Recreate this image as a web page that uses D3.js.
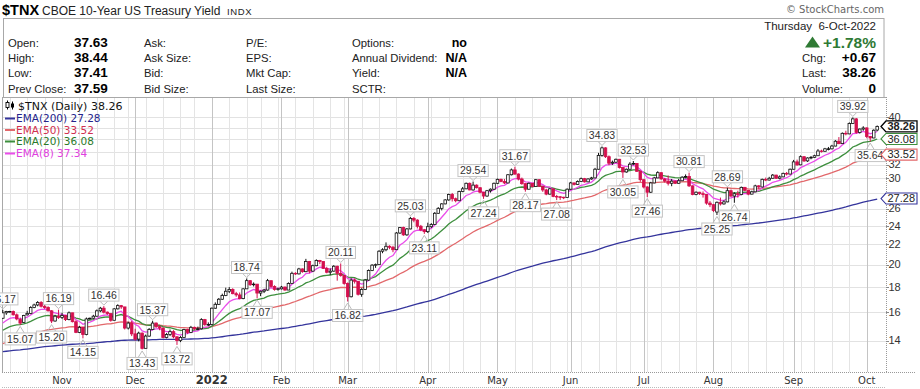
<!DOCTYPE html>
<html>
<head>
<meta charset="utf-8">
<script src="https://cdn.jsdelivr.net/npm/d3@7"></script>
<style>
  body { margin: 0; background: #fff; }
  svg { display: block; }
  text { font-family: "Liberation Sans", Arial, sans-serif; fill: #222; }
  .axis-text { font-family: "DejaVu Sans", Verdana, sans-serif; }
</style>
</head>
<body>
<div id="chart"></div>
<script>
// ---- values ($TNX = 10 x the 10-year yield) ----
const firstDay = "2021-10-07";
const lastDay = "2022-10-06";
const holidays = ["2021-11-25", "2021-12-24", "2022-01-17", "2022-02-21", "2022-04-15",
  "2022-05-30", "2022-06-20", "2022-07-04", "2022-09-05"];

// [open, high, low, close] for every trading day, month by month
const oct21 = [
  [15.55, 16.17, 15.50, 15.95], [15.95, 16.10, 15.80, 16.05], [16.05, 16.10, 15.98, 16.05],
  [16.05, 16.12, 15.75, 15.80], [15.80, 15.90, 15.40, 15.50], [15.45, 15.60, 15.07, 15.20],
  [15.25, 15.80, 15.20, 15.75], [15.80, 16.10, 15.75, 15.90], [15.90, 16.45, 15.85, 16.35],
  [16.35, 16.65, 16.30, 16.55], [16.55, 16.85, 16.45, 16.75], [16.75, 16.85, 16.35, 16.45],
  [16.45, 16.55, 16.25, 16.35], [16.35, 16.45, 16.05, 16.10], [16.10, 16.15, 15.20, 15.35],
  [15.35, 15.80, 15.30, 15.70], [15.70, 16.19, 15.50, 15.60]];
const nov21 = [
  [15.60, 15.95, 15.50, 15.75], [15.75, 15.80, 15.35, 15.45], [15.45, 16.05, 15.40, 15.95],
  [15.95, 15.95, 15.25, 15.30], [15.30, 15.40, 14.50, 14.55], [14.55, 15.00, 14.50, 14.90],
  [14.90, 14.95, 14.15, 14.40], [14.40, 15.60, 14.35, 15.50], [15.50, 15.60, 15.45, 15.55],
  [15.55, 15.80, 15.50, 15.70], [15.70, 16.20, 15.65, 16.10], [16.10, 16.40, 16.00, 16.30],
  [16.30, 16.46, 15.90, 16.00], [16.00, 16.05, 15.80, 15.90], [15.90, 15.90, 15.30, 15.40],
  [15.40, 16.30, 15.40, 16.25], [16.25, 16.60, 16.20, 16.50], [16.50, 16.55, 16.25, 16.40],
  [16.40, 16.40, 14.75, 14.85], [14.85, 15.30, 14.75, 15.20], [15.20, 15.35, 14.30, 14.45]];
const dec21 = [
  [14.45, 14.80, 14.00, 14.10], [14.10, 14.60, 13.95, 14.50], [14.50, 14.55, 13.43, 13.50],
  [13.50, 14.40, 13.50, 14.30], [14.30, 14.85, 14.25, 14.75], [14.75, 15.37, 14.70, 15.20],
  [15.20, 15.25, 14.85, 14.95], [14.95, 15.05, 14.70, 14.85], [14.85, 14.90, 14.15, 14.20],
  [14.20, 14.50, 14.15, 14.40], [14.40, 14.75, 14.30, 14.60], [14.60, 14.70, 14.15, 14.25],
  [14.25, 14.30, 13.72, 14.00], [14.00, 14.30, 13.90, 14.20], [14.20, 14.80, 14.20, 14.75],
  [14.75, 14.80, 14.45, 14.55], [14.55, 15.00, 14.50, 14.90], [14.90, 14.95, 14.70, 14.80],
  [14.80, 14.95, 14.70, 14.80], [14.80, 15.55, 14.75, 15.45], [15.45, 15.50, 15.00, 15.10],
  [15.10, 15.25, 15.00, 15.10]];
const jan22 = [
  [15.10, 16.35, 15.05, 16.30], [16.30, 16.75, 16.25, 16.60], [16.60, 17.10, 16.55, 17.00],
  [17.00, 17.45, 16.95, 17.30], [17.30, 17.95, 17.25, 17.65], [17.65, 18.00, 17.50, 17.80],
  [17.80, 17.90, 17.40, 17.45], [17.45, 17.60, 17.20, 17.35], [17.35, 17.55, 17.00, 17.05],
  [17.05, 17.90, 17.00, 17.85], [17.85, 18.74, 17.85, 18.55], [18.55, 18.60, 18.10, 18.20],
  [18.20, 18.40, 18.05, 18.25], [18.25, 18.25, 17.07, 17.50], [17.50, 17.70, 17.25, 17.65],
  [17.65, 17.85, 17.50, 17.75], [17.75, 18.70, 17.70, 18.55], [18.55, 18.55, 17.95, 18.05],
  [18.05, 18.15, 17.70, 17.80], [17.80, 17.95, 17.70, 17.85]];
const feb22 = [
  [17.85, 18.10, 17.80, 18.00], [18.00, 18.05, 17.70, 17.75], [17.75, 18.40, 17.75, 18.30],
  [18.30, 19.35, 18.30, 19.20], [19.20, 19.30, 19.05, 19.15], [19.15, 19.70, 19.10, 19.60],
  [19.60, 19.65, 19.25, 19.35], [19.35, 20.55, 19.30, 20.30], [20.30, 20.35, 19.20, 19.40],
  [19.40, 20.00, 19.35, 19.90], [19.90, 20.50, 19.85, 20.40], [20.40, 20.45, 20.05, 20.30],
  [20.30, 20.30, 19.60, 19.65], [19.65, 19.80, 19.20, 19.30], [19.30, 19.65, 19.05, 19.40],
  [19.40, 19.95, 19.35, 19.85], [19.85, 19.90, 18.55, 19.20], [19.20, 20.11, 18.90, 19.00],
  [19.00, 19.05, 18.20, 18.30]];
const mar22 = [
  [18.30, 18.40, 16.82, 17.20], [17.20, 18.75, 17.15, 18.60], [18.60, 18.75, 18.30, 18.50],
  [18.50, 18.50, 17.30, 17.40], [17.40, 17.90, 17.20, 17.80], [17.80, 18.70, 17.75, 18.60],
  [18.60, 19.55, 18.55, 19.45], [19.45, 20.05, 19.40, 19.95], [19.95, 20.10, 19.70, 20.00],
  [20.00, 21.40, 20.00, 21.30], [21.30, 21.60, 21.10, 21.45], [21.45, 22.20, 21.30, 21.80],
  [21.80, 21.90, 21.50, 21.70], [21.70, 21.85, 21.20, 21.45], [21.45, 23.30, 21.45, 23.20],
  [23.20, 23.85, 23.10, 23.80], [23.80, 23.90, 22.90, 23.00], [23.00, 23.75, 22.90, 23.65],
  [23.65, 25.03, 23.60, 24.85], [24.85, 25.00, 24.40, 24.65], [24.65, 24.75, 23.70, 23.95],
  [23.95, 24.10, 23.40, 23.55], [23.55, 23.65, 23.11, 23.35]];
const apr22 = [
  [23.35, 24.35, 23.20, 23.90], [23.90, 24.30, 23.75, 24.15], [24.15, 25.60, 24.10, 25.45],
  [25.45, 26.20, 25.40, 26.05], [26.05, 26.70, 25.80, 26.60], [26.60, 27.20, 26.55, 27.10],
  [27.10, 27.90, 27.00, 27.80], [27.80, 28.00, 26.90, 27.25], [27.25, 27.40, 26.80, 27.00],
  [27.00, 28.30, 26.95, 28.20], [28.20, 28.80, 28.10, 28.55], [28.55, 29.40, 28.50, 29.30],
  [29.30, 29.40, 28.35, 28.40], [28.40, 29.54, 28.30, 29.05], [29.05, 29.15, 28.60, 28.70],
  [28.70, 28.75, 27.95, 28.10], [28.10, 28.15, 27.24, 27.60], [27.60, 28.40, 27.50, 28.30],
  [28.30, 28.60, 28.05, 28.50], [28.50, 29.40, 28.40, 29.30]];
const may22 = [
  [29.30, 29.95, 29.20, 29.85], [29.85, 29.95, 29.45, 29.55], [29.55, 29.90, 29.20, 29.35],
  [29.35, 30.60, 29.30, 30.50], [30.50, 31.40, 30.40, 31.20], [31.20, 31.67, 30.50, 30.60],
  [30.60, 30.70, 29.70, 29.90], [29.90, 30.10, 29.10, 29.25], [29.25, 29.30, 28.17, 28.50],
  [28.50, 29.40, 28.45, 29.30], [29.30, 29.35, 28.75, 28.85], [28.85, 29.90, 28.85, 29.80],
  [29.80, 29.85, 28.80, 28.90], [28.90, 28.95, 28.15, 28.40], [28.40, 28.55, 27.70, 27.85],
  [27.85, 28.65, 27.80, 28.55], [28.55, 28.55, 27.45, 27.55], [27.55, 27.75, 27.08, 27.50],
  [27.50, 27.60, 27.10, 27.45], [27.45, 27.50, 27.20, 27.40], [27.40, 28.60, 27.40, 28.50]];
const jun22 = [
  [28.50, 29.50, 28.45, 29.35], [29.35, 29.40, 29.00, 29.15], [29.15, 29.70, 29.10, 29.55],
  [29.55, 30.10, 29.50, 29.95], [29.95, 30.05, 29.40, 29.50], [29.50, 30.00, 29.45, 29.90],
  [29.90, 30.20, 29.80, 30.05], [30.05, 31.50, 30.00, 31.30], [31.30, 33.80, 31.25, 33.40],
  [33.40, 34.83, 33.20, 34.60], [34.60, 34.70, 33.00, 33.20], [33.20, 33.40, 31.90, 32.20],
  [32.20, 32.60, 31.95, 32.35], [32.35, 32.90, 32.25, 32.80], [32.80, 32.85, 31.40, 31.55],
  [31.55, 31.60, 30.05, 30.90], [30.90, 31.40, 30.80, 31.30], [31.30, 32.35, 31.25, 32.05],
  [32.05, 32.53, 31.90, 32.15], [32.15, 32.20, 30.90, 31.00], [31.00, 31.10, 29.50, 29.80]];
const jul22 = [
  [29.80, 29.85, 28.60, 28.80], [28.80, 28.90, 27.46, 28.10], [28.10, 29.50, 28.00, 29.35],
  [29.35, 30.20, 29.30, 30.05], [30.05, 31.00, 30.00, 30.80], [30.80, 30.85, 29.80, 29.90],
  [29.90, 30.00, 29.40, 29.60], [29.60, 30.40, 29.00, 29.30], [29.30, 29.90, 28.90, 29.60],
  [29.60, 29.70, 29.20, 29.30], [29.30, 29.90, 29.25, 29.65], [29.65, 30.30, 29.60, 30.15],
  [30.15, 30.55, 30.00, 30.25], [30.25, 30.81, 28.80, 28.95], [28.95, 29.00, 27.70, 27.80],
  [27.80, 28.20, 27.70, 28.10], [28.10, 28.15, 27.75, 27.90], [27.90, 28.20, 27.40, 27.80],
  [27.80, 27.85, 26.50, 26.70], [26.70, 26.95, 26.20, 26.50]];
const aug22 = [
  [26.50, 26.60, 25.60, 25.80], [25.60, 26.90, 25.25, 26.80], [26.80, 27.40, 26.40, 26.60],
  [26.60, 27.05, 26.50, 26.85], [26.85, 28.69, 26.80, 28.30], [28.30, 28.45, 27.50, 27.60],
  [27.60, 28.10, 26.74, 27.90], [27.90, 28.30, 27.40, 27.80], [27.80, 28.85, 27.70, 28.75],
  [28.75, 28.80, 28.25, 28.35], [28.35, 28.40, 27.70, 27.85], [27.85, 28.30, 27.80, 28.15],
  [28.15, 29.10, 28.10, 28.95], [28.95, 29.05, 28.50, 28.80], [28.80, 29.95, 28.75, 29.85],
  [29.85, 30.10, 29.60, 29.75], [29.75, 30.20, 29.70, 30.00], [30.00, 30.60, 29.95, 30.45],
  [30.45, 30.50, 29.90, 30.00], [30.00, 30.40, 29.85, 30.20], [30.20, 30.80, 30.15, 30.70],
  [30.70, 30.90, 30.40, 30.60], [30.60, 31.40, 30.55, 31.30]];
const sep22 = [
  [31.30, 32.70, 31.25, 32.40], [32.40, 32.75, 31.80, 31.95], [31.95, 33.40, 31.90, 33.20],
  [33.20, 33.25, 32.40, 32.55], [32.55, 33.10, 32.40, 33.00], [33.00, 33.30, 32.80, 33.10],
  [33.10, 33.50, 33.00, 33.35], [33.35, 34.40, 33.30, 34.10], [34.10, 34.30, 33.85, 34.05],
  [34.05, 34.60, 34.00, 34.45], [34.45, 34.75, 34.20, 34.45], [34.45, 35.10, 34.35, 34.90],
  [34.90, 35.90, 34.85, 35.70], [35.70, 36.40, 35.20, 35.30], [35.30, 37.20, 35.25, 37.05],
  [37.05, 37.50, 36.70, 36.95], [36.95, 39.00, 36.90, 38.80], [38.80, 39.92, 38.70, 39.65],
  [39.65, 39.80, 37.00, 37.20], [37.20, 37.90, 37.00, 37.80], [37.80, 38.30, 37.50, 38.00]];
const oct22 = [
  [38.00, 38.10, 36.20, 36.50], [36.50, 36.60, 35.64, 36.25], [36.25, 37.75, 36.20, 37.59],
  [37.63, 38.44, 37.41, 38.26]];

// swing labels printed on the chart
const labelDates = ["2021-10-07", "2021-10-14", "2021-10-27", "2021-10-29", "2021-11-09",
  "2021-11-17", "2021-12-03", "2021-12-08", "2021-12-17", "2022-01-18", "2022-01-21",
  "2022-02-25", "2022-03-01", "2022-03-25", "2022-03-31", "2022-04-21", "2022-04-26",
  "2022-05-09", "2022-05-12", "2022-05-25", "2022-06-14", "2022-06-23", "2022-06-28",
  "2022-07-05", "2022-07-21", "2022-08-02", "2022-08-05", "2022-08-09", "2022-09-27",
  "2022-10-04"];
const labelValues = [16.17, 15.07, 15.20, 16.19, 14.15, 16.46, 13.43, 15.37, 13.72, 18.74,
  17.07, 20.11, 16.82, 25.03, 23.11, 29.54, 27.24, 31.67, 28.17, 27.08, 34.83, 30.05, 32.53,
  27.46, 30.81, 25.25, 28.69, 26.74, 39.92, 35.64];
const labelSides = ["h", "l", "l", "h", "l", "h", "l", "h", "l", "h", "l", "h", "l", "h", "l",
  "h", "l", "h", "l", "l", "h", "l", "h", "l", "h", "l", "h", "l", "h", "l"];

// moving averages: period, value at the first bar, value printed in the legend
const emaNames = ["EMA(200)", "EMA(50)", "EMA(20)", "EMA(8)"];
const emaPeriods = [200, 50, 20, 8];
const emaStart = [13.29, 13.80, 14.70, 15.20];
const emaLast = [27.28, 33.52, 36.08, 37.34];

const yTicks = [14, 16, 18, 20, 22, 24, 26, 28, 30, 32, 34, 36, 38, 40];

// quote panel
const symbolText = "$TNX";
const nameText = "CBOE 10-Year US Treasury Yield";
const exchangeText = "INDX";
const quoteCol1 = [["Open:", "37.63"], ["High:", "38.44"], ["Low:", "37.41"], ["Prev Close:", "37.59"]];
const quoteCol2 = ["Ask:", "Ask Size:", "Bid:", "Bid Size:"];
const quoteCol3 = ["P/E:", "EPS:", "Mkt Cap:", "Last Size:"];
const quoteCol4 = [["Options:", "no"], ["Annual Dividend:", "N/A"], ["Yield:", "N/A"], ["SCTR:", ""]];
const quoteRight = [["Chg:", "+0.67"], ["Last:", "38.26"], ["Volume:", "0"]];
const quoteDate = "Thursday\u00a0\u00a06-Oct-2022";
const quotePct = "+1.78%";
const lastPrice = 38.26;

class CandleChart {
  /**
   * Class constructor with basic configuration
   * @param {Object}
   * @param {Array}
   */
  constructor(_config, _bars) {
    this.config = {
      parentElement: _config.parentElement,
      containerWidth: _config.containerWidth || 920,
      containerHeight: _config.containerHeight || 389,
      plot: { left: 2, right: 886, top: 97, bottom: 372 },
      xFirst: 2.8,
      xLast: 877.2,
      up: "#111",
      down: "#d4104e",
      emaLine: ["#34349c", "#e2686b", "#3d8f3d", "#ea4dea"],
      emaText: ["#24248c", "#d0304f", "#2a7a2a", "#e040e0"],
      legendY: [105.5, 118, 129.5, 141, 153],
      tagHalf: 5.5,
    };
    this.bars = _bars;
    this.initVis();
  }

  initVis() {
    let vis = this;
    const p = vis.config.plot;

    vis.svg = d3
      .select(vis.config.parentElement)
      .append("svg")
      .attr("width", vis.config.containerWidth)
      .attr("height", vis.config.containerHeight);

    vis.xScale = d3
      .scaleLinear()
      .domain([0, vis.bars.length - 1])
      .range([vis.config.xFirst, vis.config.xLast]);

    // log price scale, 40 sits at y=117 and 14 at y=340.6
    vis.yScale = d3.scaleLog().domain([14, 40]).range([340.6, 117]);

    vis.svg
      .append("defs")
      .append("clipPath")
      .attr("id", "plot-clip")
      .append("rect")
      .attr("x", p.left)
      .attr("y", p.top)
      .attr("width", p.right - p.left)
      .attr("height", p.bottom - p.top);

    vis.grid = vis.svg.append("g");
    vis.chart = vis.svg.append("g").attr("clip-path", "url(#plot-clip)");
    vis.overlay = vis.svg.append("g");

    vis.drawHeader();
    vis.updateVis();
  }

  drawHeader() {
    let vis = this;
    const g = vis.svg.append("g");

    g.append("text").attr("x", 2).attr("y", 14.5)
      .attr("font-size", 14.5).attr("font-weight", "bold").style("fill", "#000").text(symbolText);
    g.append("text").attr("x", 42).attr("y", 14.5).attr("font-size", 12).text(nameText);
    g.append("text").attr("x", 227).attr("y", 14.5).attr("font-size", 9.5)
      .attr("letter-spacing", 0.6).text(exchangeText);
    g.append("text").attr("class", "axis-text").attr("x", 884).attr("y", 13)
      .attr("text-anchor", "end").attr("font-size", 10).style("fill", "#666")
      .text("\u00a9 StockCharts.com");

    g.append("rect").attr("x", 3.5).attr("y", 18.5).attr("width", 880.5).attr("height", 79)
      .attr("fill", "none").attr("stroke", "#a8a8a8");

    const rows = [46.5, 62, 77, 92.5];
    quoteCol1.forEach((d, i) => {
      g.append("text").attr("x", 8).attr("y", rows[i]).attr("font-size", 11.3).text(d[0]);
      g.append("text").attr("x", 74).attr("y", rows[i]).attr("font-size", 13.5)
        .attr("font-weight", "bold").style("fill", "#000").text(d[1]);
    });
    quoteCol2.forEach((d, i) => {
      g.append("text").attr("x", 144).attr("y", rows[i]).attr("font-size", 11.3).text(d);
    });
    quoteCol3.forEach((d, i) => {
      g.append("text").attr("x", 246).attr("y", rows[i]).attr("font-size", 11.3).text(d);
    });
    quoteCol4.forEach((d, i) => {
      g.append("text").attr("x", 352).attr("y", rows[i]).attr("font-size", 11.3).text(d[0]);
      g.append("text").attr("x", 467).attr("y", rows[i]).attr("text-anchor", "end")
        .attr("font-size", 12.5).attr("font-weight", "bold").style("fill", "#000").text(d[1]);
    });

    g.append("text").attr("x", 876).attr("y", 29.5).attr("text-anchor", "end")
      .attr("font-size", 11.5).text(quoteDate);
    g.append("path").attr("d", "M805,47.5L812.5,36.5L820,47.5Z").attr("fill", "#2f7a34");
    g.append("text").attr("x", 876).attr("y", 47.5).attr("text-anchor", "end")
      .attr("font-size", 15.5).attr("font-weight", "bold").style("fill", "#2f7a34").text(quotePct);
    quoteRight.forEach((d, i) => {
      g.append("text").attr("x", 802).attr("y", rows[i + 1]).attr("font-size", 11.3).text(d[0]);
      g.append("text").attr("x", 876).attr("y", rows[i + 1]).attr("text-anchor", "end")
        .attr("font-size", 13.5).attr("font-weight", "bold").style("fill", "#000").text(d[1]);
    });
  }

  updateVis() {
    let vis = this;

    // exponential moving averages of the closes, started from the value seen at the first bar
    vis.emas = emaPeriods.map((n, k) => {
      const a = 2 / (n + 1);
      let e = emaStart[k];
      return vis.bars.map((b, i) => (i === 0 ? e : (e = e + a * (b.c - e))));
    });

    // first trading day of each week and month
    vis.weekStarts = [];
    vis.monthStarts = [];
    vis.bars.forEach((b, i) => {
      if (i === 0) return;
      const prev = vis.bars[i - 1].date;
      if (b.date.getUTCMonth() !== prev.getUTCMonth()) vis.monthStarts.push(i);
      else if (b.date.getUTCDay() < prev.getUTCDay()) vis.weekStarts.push(i);
    });

    // value tags on the right axis (they hide the tick labels under them)
    vis.tags = [
      { v: emaLast[0], c: vis.config.emaLine[0], b: false },
      { v: emaLast[1], c: vis.config.emaLine[1], b: false },
      { v: emaLast[2], c: vis.config.emaLine[2], b: false },
      { v: lastPrice, c: "#000", b: true },
    ];
    vis.visibleTicks = yTicks.filter((t) =>
      vis.tags.every((tg) => Math.abs(vis.yScale(t) - vis.yScale(tg.v)) > 8));

    vis.renderVis();
  }

  renderVis() {
    let vis = this;
    const p = vis.config.plot;
    const x = vis.xScale;
    const y = vis.yScale;
    const th = vis.config.tagHalf;

    // grid
    vis.grid.selectAll(".hgrid").data(yTicks).join("line").attr("class", "hgrid")
      .attr("x1", p.left).attr("x2", p.right)
      .attr("y1", (d) => Math.round(y(d)) + 0.5).attr("y2", (d) => Math.round(y(d)) + 0.5)
      .attr("stroke", "#e2e2e2");
    vis.grid.selectAll(".wgrid").data(vis.weekStarts).join("line").attr("class", "wgrid")
      .attr("x1", (d) => Math.round(x(d)) + 0.5).attr("x2", (d) => Math.round(x(d)) + 0.5)
      .attr("y1", p.top).attr("y2", p.bottom).attr("stroke", "#e4e4e4");
    vis.grid.selectAll(".mgrid").data(vis.monthStarts).join("line").attr("class", "mgrid")
      .attr("x1", (d) => Math.round(x(d)) + 0.5).attr("x2", (d) => Math.round(x(d)) + 0.5)
      .attr("y1", p.top).attr("y2", p.bottom).attr("stroke", "#c4c4c4");

    // frame
    vis.grid.append("line").attr("x1", p.left + 0.5).attr("x2", p.left + 0.5)
      .attr("y1", p.top).attr("y2", p.bottom).attr("stroke", "#a8a8a8");
    vis.grid.append("line").attr("x1", p.left).attr("x2", p.right)
      .attr("y1", p.top + 0.5).attr("y2", p.top + 0.5).attr("stroke", "#a8a8a8");
    vis.grid.append("line").attr("x1", p.right + 0.5).attr("x2", p.right + 0.5)
      .attr("y1", p.top).attr("y2", p.bottom).attr("stroke", "#999").attr("stroke-dasharray", "1,1");
    vis.grid.append("line").attr("x1", p.left).attr("x2", p.right + 30)
      .attr("y1", p.bottom + 0.5).attr("y2", p.bottom + 0.5).attr("stroke", "#999").attr("stroke-dasharray", "1,1");
    vis.grid.append("line").attr("x1", p.left).attr("x2", p.right)
      .attr("y1", 387.5).attr("y2", 387.5).attr("stroke", "#bbb").attr("stroke-dasharray", "1,1");

    // y axis on the right
    vis.grid.selectAll(".ytick").data(yTicks).join("line").attr("class", "ytick")
      .attr("x1", p.right).attr("x2", p.right + 3)
      .attr("y1", (d) => Math.round(y(d)) + 0.5).attr("y2", (d) => Math.round(y(d)) + 0.5)
      .attr("stroke", "#888");
    vis.grid.selectAll(".ylabel").data(vis.visibleTicks).join("text").attr("class", "ylabel")
      .attr("x", p.right + 2.5).attr("y", (d) => y(d)).attr("dy", "0.34em")
      .attr("font-size", 11).style("fill", "#333").text((d) => d);

    // month labels
    vis.grid.selectAll(".mlabel").data(vis.monthStarts).join("text").attr("class", "mlabel axis-text")
      .attr("x", (d) => x(d)).attr("y", 384).attr("text-anchor", "middle")
      .attr("font-size", (d) => (vis.bars[d].date.getUTCMonth() === 0 ? 11.5 : 10))
      .attr("font-weight", (d) => (vis.bars[d].date.getUTCMonth() === 0 ? "bold" : "normal"))
      .style("fill", "#333")
      .text((d) => {
        const dt = vis.bars[d].date;
        return dt.getUTCMonth() === 0 ? dt.getUTCFullYear() : d3.utcFormat("%b")(dt);
      });

    // moving average lines, slowest first
    const line = d3.line().x((d, i) => x(i)).y((d) => y(d));
    vis.chart.selectAll(".ema").data(vis.emas).join("path").attr("class", "ema")
      .attr("d", line).attr("fill", "none")
      .attr("stroke", (d, k) => vis.config.emaLine[k]).attr("stroke-width", 1.3);

    // candles: black when the close is up from the day before, red when down;
    // hollow when close > open, filled otherwise
    const col = (b, i) => (b.c >= (i === 0 ? b.o : vis.bars[i - 1].c) ? vis.config.up : vis.config.down);
    const candles = vis.chart.selectAll(".candle").data(vis.bars).join("g").attr("class", "candle");
    candles.append("line")
      .attr("x1", (d, i) => x(i)).attr("x2", (d, i) => x(i))
      .attr("y1", (d) => y(d.h)).attr("y2", (d) => y(d.l))
      .attr("stroke", col).attr("stroke-width", 1);
    candles.append("rect")
      .attr("x", (d, i) => x(i) - 1.3).attr("width", 2.6)
      .attr("y", (d) => y(Math.max(d.o, d.c)))
      .attr("height", (d) => Math.max(0.6, Math.abs(y(d.o) - y(d.c))))
      .attr("fill", (d, i) => (d.c > d.o ? "#fff" : col(d, i)))
      .attr("stroke", col).attr("stroke-width", 0.8);

    // swing labels
    const lab = vis.overlay.selectAll(".swing")
      .data(labelDates.map((d, k) => ({ i: vis.index.get(d), v: labelValues[k], side: labelSides[k] })))
      .join("g").attr("class", "swing");
    lab.each(function (d) {
      const g = d3.select(this);
      const cx = x(d.i);
      const py = y(d.v);
      const t = g.append("text").attr("font-size", 10.5).attr("text-anchor", "middle")
        .style("fill", "#333").text(d.v.toFixed(2));
      const w = t.node().getComputedTextLength() + 4;
      const top = d.side === "h" ? py - 5 - 12 : py + 8;
      const edge = d.side === "h" ? top + 12 : top;
      const tip = d.side === "h" ? py - 1 : py + 1.5;
      g.insert("path", "text")
        .attr("d", `M${cx - 4},${edge}L${cx},${tip}L${cx + 4},${edge}`)
        .attr("fill", "none").attr("stroke", "#bbb");
      g.insert("rect", "text").attr("x", cx - w / 2).attr("y", top).attr("width", w).attr("height", 12)
        .attr("fill", "#fff").attr("fill-opacity", 0.9).attr("stroke", "#c4c4c4");
      t.attr("x", cx).attr("y", top + 9.8);
    });

    const tag = vis.overlay.selectAll(".tag").data(vis.tags).join("g").attr("class", "tag");
    tag.append("path")
      .attr("d", (d) => {
        const cy = y(d.v);
        return `M881,${cy}L886,${cy - th}L917,${cy - th}L917,${cy + th}L886,${cy + th}Z`;
      })
      .attr("fill", "#fff").attr("stroke", (d) => d.c).attr("stroke-width", (d) => (d.b ? 1.3 : 1.1));
    tag.append("text").attr("x", 887.5).attr("y", (d) => y(d.v)).attr("dy", "0.35em")
      .attr("font-size", 11).attr("font-weight", (d) => (d.b ? "bold" : "normal"))
      .style("fill", "#222").text((d) => d.v.toFixed(2));

    // legend
    const ly = vis.config.legendY;
    const icon = vis.overlay.append("g");
    icon.append("line").attr("x1", 7.5).attr("x2", 7.5).attr("y1", ly[0] - 5).attr("y2", ly[0] + 4).attr("stroke", "#000");
    icon.append("rect").attr("x", 6).attr("y", ly[0] - 3).attr("width", 3).attr("height", 5)
      .attr("fill", "#fff").attr("stroke", "#000").attr("stroke-width", 0.9);
    icon.append("line").attr("x1", 12.5).attr("x2", 12.5).attr("y1", ly[0] - 4).attr("y2", ly[0] + 4).attr("stroke", "#000");
    icon.append("rect").attr("x", 11).attr("y", ly[0] - 2).attr("width", 3).attr("height", 4).attr("fill", "#000");
    vis.overlay.append("text").attr("class", "axis-text").attr("x", 18).attr("y", ly[0] + 4)
      .attr("font-size", 11).style("fill", "#111")
      .text(`${symbolText} (Daily) ${lastPrice.toFixed(2)}`);
    emaNames.forEach((name, k) => {
      vis.overlay.append("line").attr("x1", 5).attr("x2", 15)
        .attr("y1", ly[k + 1] + 0.5).attr("y2", ly[k + 1] + 0.5)
        .attr("stroke", vis.config.emaLine[k]).attr("stroke-width", 2);
      vis.overlay.append("text").attr("class", "axis-text").attr("x", 16).attr("y", ly[k + 1] + 4)
        .attr("font-size", 10.5).style("fill", vis.config.emaText[k])
        .text(`${name} ${emaLast[k].toFixed(2)}`);
    });
  }
}

// trading calendar: weekdays minus the exchange holidays
const parseDay = d3.utcParse("%Y-%m-%d");
const fmtDay = d3.utcFormat("%Y-%m-%d");
const closed = new Set(holidays);
const days = d3.utcDay.range(parseDay(firstDay), d3.utcDay.offset(parseDay(lastDay), 1))
  .filter((d) => d.getUTCDay() % 6 !== 0 && !closed.has(fmtDay(d)));
const ohlc = [].concat(oct21, nov21, dec21, jan22, feb22, mar22, apr22, may22, jun22, jul22, aug22, sep22, oct22);
if (ohlc.length !== days.length) console.error("bars", ohlc.length, "days", days.length);
const bars = days.map((d, i) => ({ date: d, o: ohlc[i][0], h: ohlc[i][1], l: ohlc[i][2], c: ohlc[i][3] }));

CandleChart.prototype.index = new Map(bars.map((b, i) => [fmtDay(b.date), i]));
const chart = new CandleChart({ parentElement: "#chart" }, bars);
</script>
</body>
</html>
